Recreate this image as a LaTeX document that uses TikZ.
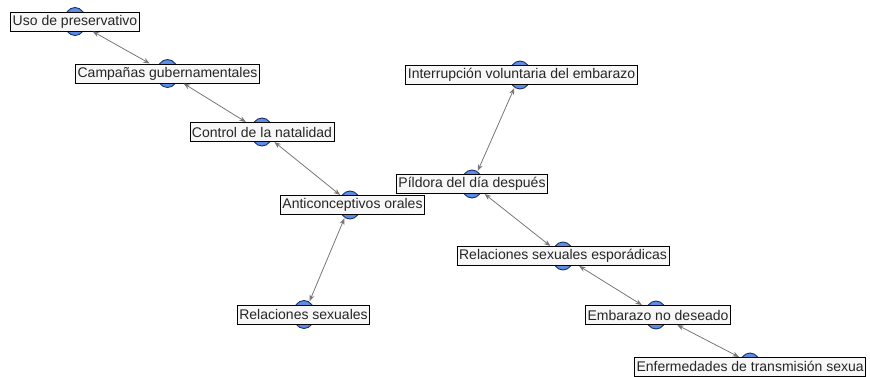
\documentclass[tikz,border=0pt]{standalone}
\usepackage{fontspec}
\setmainfont{Liberation Sans}
\usetikzlibrary{arrows.meta,shapes.geometric}
\definecolor{dotblue}{HTML}{5B8EE6}
\definecolor{dotline}{HTML}{1F2F66}
\definecolor{edgegray}{HTML}{777777}
\definecolor{boxfill}{HTML}{F7F7F7}
\tikzset{
  dot/.style={ellipse,draw=dotline,line width=0.9pt,fill=dotblue,minimum width=22pt,minimum height=28pt,inner sep=0pt,outer sep=1pt},
  label box/.style={draw=black,line width=0.8pt,fill=boxfill,font=\fontsize{14}{16}\selectfont,text=black!85,inner xsep=2pt,inner ysep=0pt,minimum height=19pt,outer sep=0.5pt},
  link/.style={draw=edgegray,line width=0.8pt,{Stealth[length=6.5pt,width=5pt]}-{Stealth[length=6.5pt,width=5pt]}}
}
\begin{document}
\begin{tikzpicture}[x=1pt,y=1pt]
\useasboundingbox (0,-377) rectangle (870,0);
% circles
\node[dot] (c1) at (75,-21.5) {};
\node[dot] (c2) at (167.5,-73.5) {};
\node[dot] (c3) at (262,-132) {};
\node[dot] (c4) at (350,-205) {};
\node[dot] (c5) at (304,-314.5) {};
\node[dot] (c6) at (520,-75) {};
\node[dot] (c7) at (472,-184) {};
\node[dot] (c8) at (563,-256) {};
\node[dot] (c9) at (656,-315) {};
\node[dot] (c10) at (750,-367) {};
% label boxes
\node[label box] (b1) at (75,-21.5) {Uso de preservativo};
\node[label box] (b2) at (167.5,-73.5) {Campañas gubernamentales};
\node[label box] (b3) at (262,-132) {Control de la natalidad};
\node[label box] (b4) at (352.5,-205) {Anticonceptivos orales};
\node[label box] (b5) at (303.5,-314.5) {Relaciones sexuales};
\node[label box] (b6) at (521.5,-75) {Interrupción voluntaria del embarazo};
\node[label box] (b7) at (472,-184) {Píldora del día después};
\node[label box] (b8) at (563,-256) {Relaciones sexuales esporádicas};
\node[label box] (b9) at (658,-315) {Embarazo no deseado};
\node[label box,anchor=west] (b10) at (634,-366.5) {Enfermedades de transmisión sexua};
\coordinate (e10) at (739,-357);
% edges
\draw[link] (b1) -- (b2);
\draw[link] (b2) -- (b3);
\draw[link] (b3) -- (b4);
\draw[link] (c4) -- (c5);
\draw[link] (c6) -- (c7);
\draw[link] (b7) -- (b8);
\draw[link] (b8) -- (b9);
\draw[link] (b9) -- (e10);
\end{tikzpicture}
\end{document}
